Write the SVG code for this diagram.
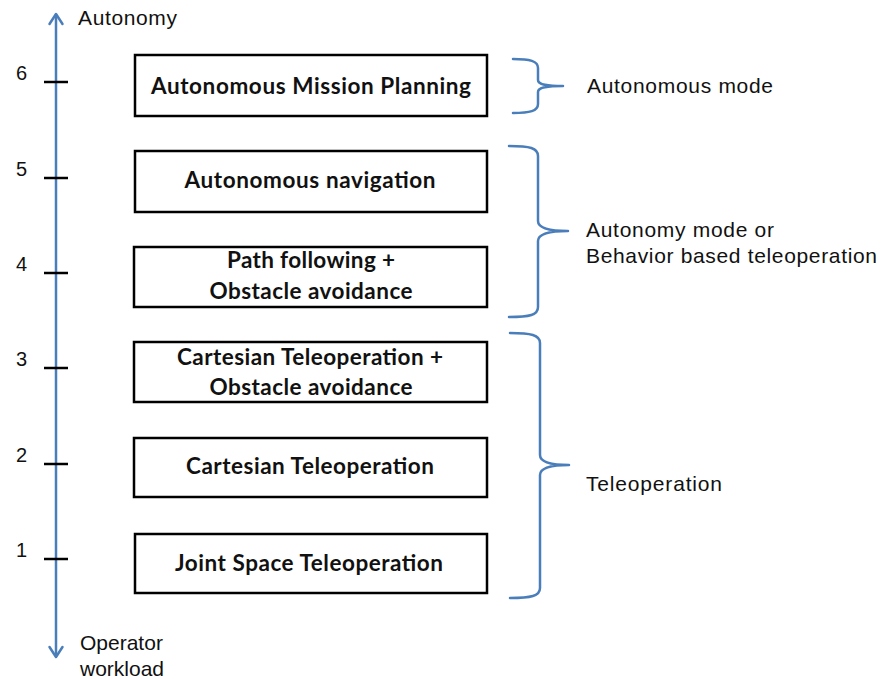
<svg xmlns="http://www.w3.org/2000/svg" width="881" height="679" viewBox="0 0 881 679">
<style>
.box{fill:#fff;stroke:#000;stroke-width:2.5}
.bt{font-family:Lato,"Liberation Sans",sans-serif;font-weight:bold;font-size:22.5px;fill:#111;text-anchor:middle}
.lbl{font-family:"Liberation Sans",Arial,sans-serif;font-size:21px;fill:#111}
.num{font-family:"Liberation Sans",Arial,sans-serif;font-size:20px;fill:#111}
.blue{fill:none;stroke:#4a7ebb;stroke-width:2.5;stroke-linecap:round;stroke-linejoin:round}
.tick{stroke:#000;stroke-width:2.5}
</style>
<rect width="881" height="679" fill="#fff"/>
<g id="connectors">
<line class="blue" x1="56" y1="15" x2="56" y2="656"/>
<polyline class="blue" points="49.5,24 56,14 62.5,24"/>
<polyline class="blue" points="49.5,647 56,657 62.5,647"/>
<line class="tick" x1="44" y1="82" x2="68" y2="82"/>
<line class="tick" x1="44" y1="178" x2="68" y2="178"/>
<line class="tick" x1="44" y1="273" x2="68" y2="273"/>
<line class="tick" x1="44" y1="368" x2="68" y2="368"/>
<line class="tick" x1="44" y1="464" x2="68" y2="464"/>
<line class="tick" x1="44" y1="559" x2="68" y2="559"/>
<path class="blue" d="M513,59 C530,59 538,61 538,68 L538,80 C538,84 544,86 563,86 C544,86 538,88 538,92 L538,104 C538,111 530,113 513,113"/>
<path class="blue" d="M509,146 C530,146 538,148 538,156 L538,221 C538,227 545,231 568,231 C545,231 538,235 538,241 L538,307 C538,315 530,317 509,317"/>
<path class="blue" d="M510,333 C531,333 540,335 540,343 L540,455 C540,461 547,465 569,465 C547,465 540,469 540,475 L540,588 C540,596 531,598 510,598"/>
</g>
<g id="axis-labels">
<text class="lbl" x="78" y="25" textLength="99">Autonomy</text>
<text class="lbl" x="80" y="650">Operator</text>
<text class="lbl" x="80" y="676">workload</text>
<text class="num" x="16" y="80">6</text>
<text class="num" x="16" y="176">5</text>
<text class="num" x="16" y="271">4</text>
<text class="num" x="16" y="366">3</text>
<text class="num" x="16" y="462">2</text>
<text class="num" x="16" y="557">1</text>
</g>
<g id="n6"><rect class="box" x="135" y="55" width="352" height="61"/><text class="bt" x="311" y="94" textLength="320">Autonomous Mission Planning</text></g>
<g id="n5"><rect class="box" x="135" y="151" width="352" height="61"/><text class="bt" x="310" y="188" textLength="251">Autonomous navigation</text></g>
<g id="n4"><rect class="box" x="134" y="247" width="353" height="60"/><text class="bt" x="311" y="268" textLength="168">Path following +</text><text class="bt" x="311" y="299" textLength="203">Obstacle avoidance</text></g>
<g id="n3"><rect class="box" x="134" y="342" width="353" height="60"/><text class="bt" x="310" y="365" textLength="266">Cartesian Teleoperation +</text><text class="bt" x="311" y="395" textLength="203">Obstacle avoidance</text></g>
<g id="n2"><rect class="box" x="134" y="438" width="353" height="59"/><text class="bt" x="310" y="474" textLength="248">Cartesian Teleoperation</text></g>
<g id="n1"><rect class="box" x="135" y="534" width="352" height="59"/><text class="bt" x="309" y="571" textLength="268">Joint Space Teleoperation</text></g>
<g id="modes">
<text class="lbl" x="587" y="93" textLength="186">Autonomous mode</text>
<text class="lbl" x="586" y="237" textLength="188">Autonomy mode or</text>
<text class="lbl" x="586" y="263" textLength="291">Behavior based teleoperation</text>
<text class="lbl" x="586" y="491" textLength="136">Teleoperation</text>
</g>
</svg>
